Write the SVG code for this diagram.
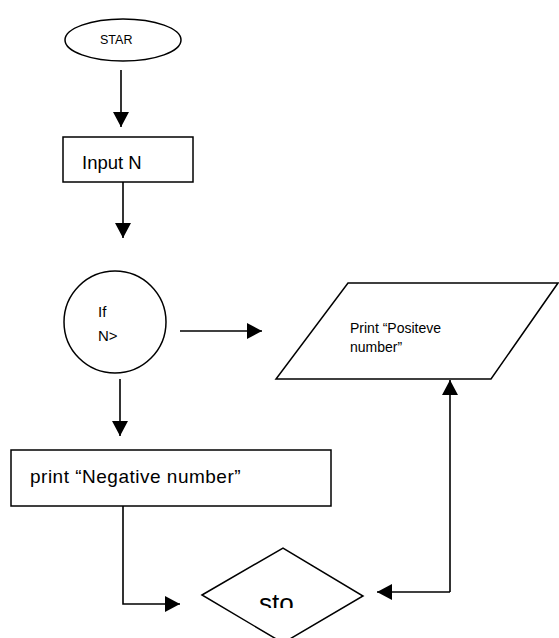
<svg xmlns="http://www.w3.org/2000/svg" width="559" height="638" viewBox="0 0 559 638">
  <style>
    .shape { fill: #ffffff; stroke: #000000; stroke-width: 1.5; }
    .conn { fill: none; stroke: #000000; stroke-width: 1.6; }
    .t { font-family: "Liberation Sans", Arial, sans-serif; fill: #000000; }
  </style>
  <defs>
    <marker id="ah" viewBox="0 0 15 16" refX="15" refY="8" markerWidth="15" markerHeight="16" orient="auto" markerUnits="userSpaceOnUse">
      <path d="M0,0 L15,8 L0,16 Z" fill="#000000"/>
    </marker>
    <clipPath id="stoclip">
      <rect x="200" y="540" width="170" height="68"/>
    </clipPath>
  </defs>
  <rect x="0" y="0" width="559" height="638" fill="#ffffff"/>

  <g id="start">
    <ellipse class="shape" cx="123" cy="40" rx="58" ry="21"/>
    <text class="t" x="100" y="44" font-size="12.5">STAR</text>
  </g>

  <g id="input">
    <rect class="shape" x="63" y="137" width="130" height="45"/>
    <text class="t" x="82" y="169" font-size="18.5">Input N</text>
  </g>

  <g id="decision">
    <circle class="shape" cx="115" cy="322" r="51"/>
    <text class="t" x="98" y="317" font-size="15">If</text>
    <text class="t" x="98" y="341" font-size="15">N&gt;</text>
  </g>

  <g id="print-positive">
    <polygon class="shape" points="348,283 558,283 491,379 276,379"/>
    <text class="t" x="350" y="333" font-size="14">Print “Positeve</text>
    <text class="t" x="350" y="352" font-size="14">number”</text>
  </g>

  <g id="print-negative">
    <rect class="shape" x="11" y="450" width="320" height="56"/>
    <text class="t" x="30" y="483" font-size="19" letter-spacing="0.5">print “Negative number”</text>
  </g>

  <g id="stop">
    <polygon class="shape" points="202,595 283,548 363,596 283,643"/>
    <text class="t" x="259" y="612" font-size="26" clip-path="url(#stoclip)">sto</text>
  </g>

  <g id="connectors">
    <line class="conn" x1="121" y1="70" x2="121" y2="127" marker-end="url(#ah)"/>
    <line class="conn" x1="123" y1="182" x2="123" y2="238" marker-end="url(#ah)"/>
    <line class="conn" x1="180" y1="331" x2="262" y2="331" marker-end="url(#ah)"/>
    <line class="conn" x1="120" y1="379" x2="120" y2="436" marker-end="url(#ah)"/>
    <polyline class="conn" points="123,506 123,604 180,604" marker-end="url(#ah)"/>
    <line class="conn" x1="450" y1="592" x2="450" y2="380" marker-end="url(#ah)"/>
    <line class="conn" x1="450" y1="592" x2="377" y2="592" marker-end="url(#ah)"/>
  </g>
</svg>
